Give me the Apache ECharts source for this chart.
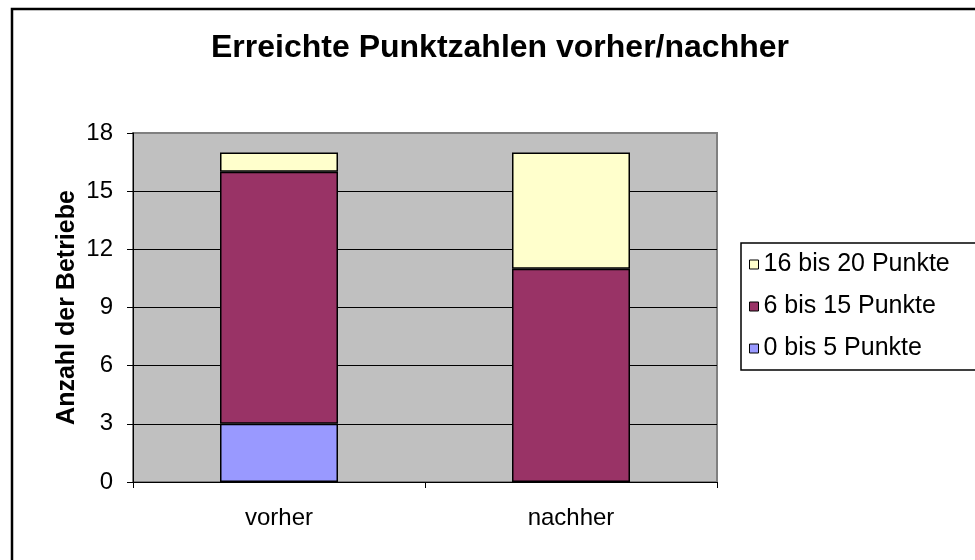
<!DOCTYPE html>
<html>
<head>
<meta charset="utf-8">
<script src="https://cdn.jsdelivr.net/npm/echarts@6/dist/echarts.min.js"></script>
<style>html,body{margin:0;padding:0;background:#fff;}#c{width:975px;height:560px;}</style>
</head>
<body>
<div id="c"></div>
<script>
var categories = ['vorher', 'nachher'];
var seriesNames = ['0 bis 5 Punkte', '6 bis 15 Punkte', '16 bis 20 Punkte'];
var low = [3, 0];
var mid = [13, 11];
var high = [1, 6];
var legendOrder = ['16 bis 20 Punkte', '6 bis 15 Punkte', '0 bis 5 Punkte'];
var colors = ['#9999FF', '#993366', '#FFFFCC'];

var FONT = "'Liberation Sans', Arial, sans-serif";
var chart = echarts.init(document.getElementById('c'), null, {renderer: 'canvas'});
var values = [low, mid, high];
var series = seriesNames.map(function (n, i) {
  return {
    name: n, type: 'bar', stack: 'total', barWidth: 118,
    data: values[i],
    itemStyle: {color: colors[i], borderColor: '#000', borderWidth: 1.5},
    emphasis: {disabled: true}
  };
});
chart.setOption({
  animation: false,
  color: colors,
  title: {
    text: 'Erreichte Punktzahlen vorher/nachher',
    left: 500, top: 32, textAlign: 'center', padding: 0,
    textStyle: {fontFamily: FONT, fontSize: 32, fontWeight: 'bold', color: '#000'}
  },
  graphic: [
    {type: 'rect', shape: {x: 12, y: 9, width: 1000, height: 600}, style: {fill: 'none', stroke: '#000', lineWidth: 2.5}, z: 100}
  ],
  legend: {
    orient: 'vertical', left: 741, top: 243,
    data: legendOrder,
    itemWidth: 9, itemHeight: 9, itemGap: 17,
    padding: [9, 60, 9, 8],
    borderColor: '#000', borderWidth: 1.5, backgroundColor: '#fff',
    icon: 'rect',
    itemStyle: {borderColor: '#000', borderWidth: 1},
    textStyle: {fontFamily: FONT, fontSize: 25, color: '#000'},
    selectedMode: false
  },
  grid: {
    left: 133, top: 133, right: 258, bottom: 78,
    show: true, backgroundColor: '#C0C0C0', borderColor: '#808080', borderWidth: 2
  },
  xAxis: {
    type: 'category', data: categories,
    axisLine: {lineStyle: {color: '#000', width: 1}},
    axisTick: {show: true, length: 6, lineStyle: {color: '#000'}},
    axisLabel: {fontFamily: FONT, fontSize: 24, color: '#000', margin: 24},
    splitLine: {show: false}
  },
  yAxis: {
    type: 'value', min: 0, max: 18, interval: 3,
    name: 'Anzahl der Betriebe', nameLocation: 'middle', nameRotate: 90, nameGap: 53,
    nameMoveOverlap: false,
    nameTextStyle: {fontFamily: FONT, fontSize: 25, fontWeight: 'bold', color: '#000'},
    axisLine: {show: true, lineStyle: {color: '#000', width: 1}},
    axisTick: {show: true, length: 6, lineStyle: {color: '#000'}},
    axisLabel: {fontFamily: FONT, fontSize: 24, color: '#000', margin: 20},
    splitLine: {show: true, lineStyle: {color: ['#000', '#000', '#000', '#000', '#000', '#000', '#808080'], width: 1}}
  },
  series: series
});
</script>
</body>
</html>
